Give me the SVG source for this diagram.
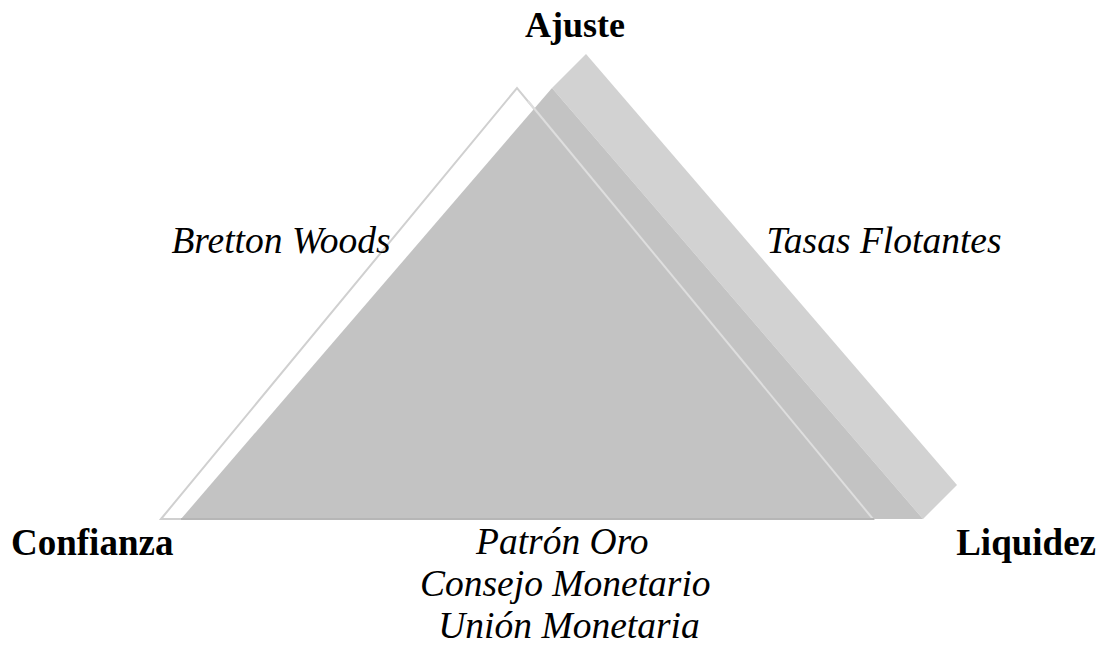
<svg xmlns="http://www.w3.org/2000/svg" width="1104" height="645" viewBox="0 0 1104 645">
<style>
.b{font-family:"Liberation Serif","Times New Roman",serif;font-weight:bold;font-size:37px;fill:#000}
.i{font-family:"Liberation Serif","Times New Roman",serif;font-style:italic;font-size:37.5px;fill:#000}
</style>
<rect width="1104" height="645" fill="#fff"/>
<g id="triangle">
<polygon points="161,519 517,88 873,519" fill="#fff" stroke="#d0d0d0" stroke-width="2"/>
<polygon id="extrusion" points="552,88 586,54 957,485 923,519" fill="#d2d2d2"/>
<polygon id="front" points="181,519 552,88 923,519" fill="#c3c3c3"/>
<line x1="528" y1="101" x2="873" y2="519" stroke="#dedede" stroke-width="2"/>
<line x1="181" y1="519" x2="874" y2="519" stroke="#b6b6b6" stroke-width="2"/>
</g>
<g id="labels">
<text id="ajuste" class="b" x="575" y="37" text-anchor="middle" style="font-size:36px">Ajuste</text>
<text id="confianza" class="b" x="11" y="555">Confianza</text>
<text id="liquidez" class="b" x="1096" y="555" text-anchor="end">Liquidez</text>
<text id="bretton" class="i" x="281" y="253" text-anchor="middle">Bretton Woods</text>
<text id="tasas" class="i" x="884" y="253" text-anchor="middle">Tasas Flotantes</text>
<text id="bottom" class="i" text-anchor="middle">
<tspan x="567" y="554">Patrón Oro</tspan>
<tspan x="570" y="596">Consejo Monetario</tspan>
<tspan x="569" y="638">Unión Monetaria</tspan>
</text>
</g>
</svg>
